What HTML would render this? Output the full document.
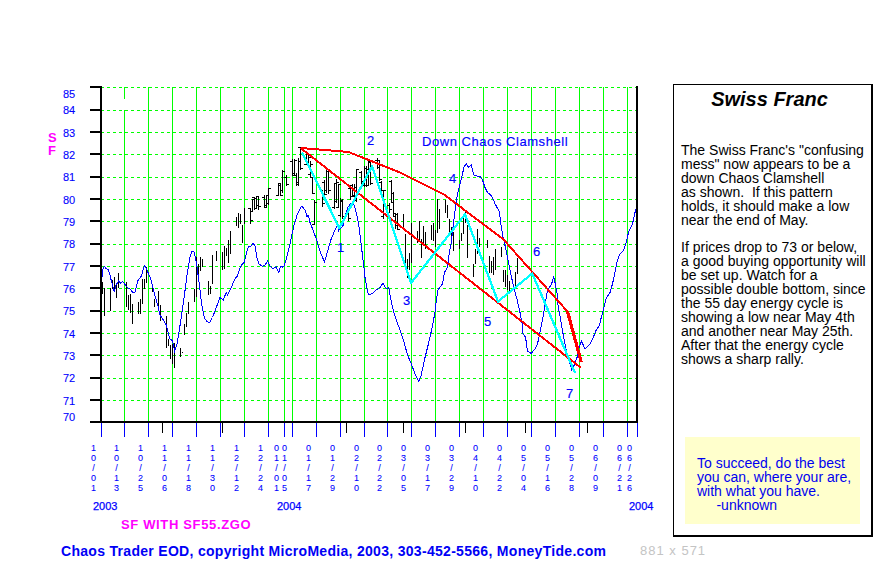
<!DOCTYPE html>
<html><head><meta charset="utf-8"><title>Swiss Franc - Chaos Trader EOD</title>
<style>
html,body{margin:0;padding:0;background:#fff;}
body{width:881px;height:571px;position:relative;overflow:hidden;font-family:"Liberation Sans",sans-serif;}
svg{position:absolute;left:0;top:0;}
.t{position:absolute;white-space:nowrap;line-height:1;}
.yl{position:absolute;left:63px;font-size:11px;color:#0000ff;line-height:11px;width:14px;text-align:left;-webkit-text-stroke:0.1px #0000ff;}
.xl{position:absolute;top:442.6px;width:10px;font-size:9px;line-height:10.1px;color:#0000ff;text-align:center;-webkit-text-stroke:0.08px #0000ff;}
.an{position:absolute;font-size:13px;color:#0000ff;line-height:13px;white-space:nowrap;letter-spacing:0.55px;-webkit-text-stroke:0.15px #0000ff;}
#panel{position:absolute;left:673px;top:84px;width:197px;height:450px;border:1px solid #000;border-right:2px solid #000;border-bottom:2px solid #000;background:#fff;box-sizing:content-box;}
#title{position:absolute;left:-3px;width:197px;top:3px;text-align:center;font-weight:bold;font-style:italic;font-size:20px;line-height:22px;color:#000;}
#body{position:absolute;left:7px;top:57.6px;width:190px;font-size:14.02px;line-height:13.98px;color:#000;white-space:nowrap;}
#quote{position:absolute;left:11px;top:352px;width:175px;height:87px;background:#ffffcc;}
#qt{position:absolute;left:12px;top:18.6px;font-size:14px;line-height:14.1px;color:#0000f0;white-space:nowrap;}
</style></head><body>

<svg width="881" height="571" viewBox="0 0 881 571" shape-rendering="crispEdges">
<line x1="101" x2="636" y1="87.5" y2="87.5" stroke="#00ff00" stroke-width="1" stroke-dasharray="3 3"/>
<line x1="101" x2="636" y1="110.5" y2="110.5" stroke="#00ff00" stroke-width="1" stroke-dasharray="3 3"/>
<line x1="101" x2="636" y1="132.5" y2="132.5" stroke="#00ff00" stroke-width="1" stroke-dasharray="3 3"/>
<line x1="101" x2="636" y1="154.5" y2="154.5" stroke="#00ff00" stroke-width="1" stroke-dasharray="3 3"/>
<line x1="101" x2="636" y1="177.5" y2="177.5" stroke="#00ff00" stroke-width="1" stroke-dasharray="3 3"/>
<line x1="101" x2="636" y1="199.5" y2="199.5" stroke="#00ff00" stroke-width="1" stroke-dasharray="3 3"/>
<line x1="101" x2="636" y1="221.5" y2="221.5" stroke="#00ff00" stroke-width="1" stroke-dasharray="3 3"/>
<line x1="101" x2="636" y1="244.5" y2="244.5" stroke="#00ff00" stroke-width="1" stroke-dasharray="3 3"/>
<line x1="101" x2="636" y1="266.5" y2="266.5" stroke="#00ff00" stroke-width="1" stroke-dasharray="3 3"/>
<line x1="101" x2="636" y1="288.5" y2="288.5" stroke="#00ff00" stroke-width="1" stroke-dasharray="3 3"/>
<line x1="101" x2="636" y1="311.5" y2="311.5" stroke="#00ff00" stroke-width="1" stroke-dasharray="3 3"/>
<line x1="101" x2="636" y1="333.5" y2="333.5" stroke="#00ff00" stroke-width="1" stroke-dasharray="3 3"/>
<line x1="101" x2="636" y1="355.5" y2="355.5" stroke="#00ff00" stroke-width="1" stroke-dasharray="3 3"/>
<line x1="101" x2="636" y1="378.5" y2="378.5" stroke="#00ff00" stroke-width="1" stroke-dasharray="3 3"/>
<line x1="101" x2="636" y1="400.5" y2="400.5" stroke="#00ff00" stroke-width="1" stroke-dasharray="3 3"/>
<line x1="124.5" x2="124.5" y1="87" y2="99" stroke="#00ff00"/>
<line x1="124.5" x2="124.5" y1="110" y2="421" stroke="#00ff00"/>
<line x1="148.5" x2="148.5" y1="87" y2="421" stroke="#00ff00"/>
<line x1="172.5" x2="172.5" y1="87" y2="421" stroke="#00ff00"/>
<line x1="196.5" x2="196.5" y1="87" y2="421" stroke="#00ff00"/>
<line x1="220.5" x2="220.5" y1="87" y2="421" stroke="#00ff00"/>
<line x1="244.5" x2="244.5" y1="87" y2="421" stroke="#00ff00"/>
<line x1="268.5" x2="268.5" y1="87" y2="421" stroke="#00ff00"/>
<line x1="284.5" x2="284.5" y1="87" y2="421" stroke="#00ff00"/>
<line x1="292.5" x2="292.5" y1="87" y2="421" stroke="#00ff00"/>
<line x1="316.5" x2="316.5" y1="87" y2="421" stroke="#00ff00"/>
<line x1="340.5" x2="340.5" y1="87" y2="421" stroke="#00ff00"/>
<line x1="364.5" x2="364.5" y1="87" y2="421" stroke="#00ff00"/>
<line x1="387.5" x2="387.5" y1="87" y2="421" stroke="#00ff00"/>
<line x1="411.5" x2="411.5" y1="87" y2="421" stroke="#00ff00"/>
<line x1="435.5" x2="435.5" y1="87" y2="421" stroke="#00ff00"/>
<line x1="459.5" x2="459.5" y1="87" y2="421" stroke="#00ff00"/>
<line x1="483.5" x2="483.5" y1="87" y2="421" stroke="#00ff00"/>
<line x1="507.5" x2="507.5" y1="87" y2="421" stroke="#00ff00"/>
<line x1="531.5" x2="531.5" y1="87" y2="421" stroke="#00ff00"/>
<line x1="555.5" x2="555.5" y1="87" y2="421" stroke="#00ff00"/>
<line x1="579.5" x2="579.5" y1="87" y2="421" stroke="#00ff00"/>
<line x1="603.5" x2="603.5" y1="87" y2="421" stroke="#00ff00"/>
<line x1="627.5" x2="627.5" y1="87" y2="421" stroke="#00ff00"/>
<path d="M102.5 282V294M104.5 288V316M110.5 288V311M112.5 280V289M114.5 277V291M116.5 283V298M118.5 273V288M126.5 282V307M128.5 295V310M130.5 294V313M132.5 304V324M138.5 302V314M140.5 299V314M142.5 279V304M144.5 279V289M146.5 267V283M152.5 284V292M154.5 299V307M158.5 291V308M160.5 305V321M166.5 316V348M168.5 339V346M170.5 345V359M172.5 344V364M174.5 343V368M180.5 348V357M182.5 352V353M184.5 324V335M186.5 313V327M188.5 302V314M194.5 289V302M196.5 257V297M198.5 264V277M200.5 257V271M202.5 259V267M208.5 281V295M210.5 286V294M212.5 255V284M216.5 251V261M222.5 252V270M224.5 246V269M226.5 248V256M228.5 240V263M230.5 231V254M236.5 217V226M238.5 213V228M240.5 214V224M242.5 225V243M244.5 208V224M250.5 208V224M248 208.5H250.5M250.5 220.5H253M252.5 199V212M250 211.5H252.5M252.5 199.5H255M254.5 197V210M252 197.5H254.5M254.5 208.5H257M256.5 197V209M254 198.5H256.5M256.5 205.5H259M258.5 196V210M256 196.5H258.5M258.5 206.5H261M264.5 195V208M262 197.5H264.5M264.5 207.5H267M266.5 195V208M264 205.5H266.5M266.5 195.5H269M268.5 188V205M266 203.5H268.5M268.5 188.5H271M278.5 184V196M276 195.5H278.5M278.5 185.5H281M280.5 183V196M278 183.5H280.5M280.5 195.5H283M282.5 170V193M280 190.5H282.5M282.5 171.5H285M286.5 175V186M284 177.5H286.5M286.5 184.5H289M292.5 159V176M290 161.5H292.5M292.5 175.5H295M294.5 159V176M292 173.5H294.5M294.5 160.5H297M296.5 173V186M294 175.5H296.5M296.5 182.5H299M298.5 158V186M296 184.5H298.5M298.5 161.5H301M300.5 147V170M298 147.5H300.5M300.5 168.5H303M306.5 153V165M304 164.5H306.5M306.5 153.5H309M308.5 154V165M306 162.5H308.5M308.5 157.5H311M310.5 161V177M308 174.5H310.5M310.5 164.5H313M312.5 177V194M310 177.5H312.5M312.5 193.5H315M314.5 200V225M312 224.5H314.5M314.5 202.5H317M322.5 190V207M320 191.5H322.5M322.5 203.5H325M324.5 180V195M322 182.5H324.5M324.5 194.5H327M326.5 169V193M324 190.5H326.5M326.5 171.5H329M328.5 170V194M326 171.5H328.5M328.5 190.5H331M334.5 183V209M332 207.5H334.5M334.5 183.5H337M336.5 179V203M334 201.5H336.5M336.5 182.5H339M338.5 184V208M336 207.5H338.5M338.5 184.5H341M340.5 198V217M338 215.5H340.5M340.5 201.5H343M342.5 199V219M340 200.5H342.5M342.5 216.5H345M348.5 212V221M346 213.5H348.5M348.5 218.5H351M350.5 188V200M348 188.5H350.5M350.5 196.5H353M352.5 184V197M350 185.5H352.5M352.5 195.5H355M354.5 184V198M352 196.5H354.5M354.5 187.5H357M356.5 169V202M354 200.5H356.5M356.5 169.5H359M361.5 171V184M359 172.5H361.5M361.5 181.5H364M364.5 166V187M362 185.5H364.5M364.5 168.5H367M366.5 166V187M364 185.5H366.5M366.5 169.5H369M368.5 161V186M366 185.5H368.5M368.5 161.5H371M370.5 162V185M368 162.5H370.5M370.5 183.5H373M377.5 158V169M375 160.5H377.5M377.5 167.5H380M379.5 160V181M377 160.5H379.5M379.5 179.5H382M381.5 181V193M379 182.5H381.5M381.5 190.5H384M383.5 190V219M381 216.5H383.5M383.5 190.5H386M389.5 203V213M387 205.5H389.5M389.5 209.5H392M391.5 180V203M389 181.5H391.5M391.5 202.5H394M393.5 192V217M391 193.5H393.5M393.5 216.5H396M395.5 213V229M393 213.5H395.5M395.5 225.5H398M397.5 213V230M395 214.5H397.5M397.5 229.5H400M403.5 214V227M405.5 234V263M407.5 259V278M409.5 253V270M411.5 223V263M417.5 231V243M419.5 221V240M421.5 239V258M423.5 226V243M425.5 232V249M431.5 225V240M433.5 223V241M435.5 230V247M437.5 199V233M439.5 209V229M445.5 200V213M447.5 205V218M449.5 219V235M451.5 227V239M453.5 232V251M459.5 240V249M461.5 233V241M463.5 218V234M465.5 210V223M467.5 225V258M473.5 264V277M475.5 249V264M477.5 229V254M479.5 238V247M487.5 240V248M489.5 256V273M491.5 261V273M493.5 257V275M495.5 249V270M501.5 247V257M503.5 270V282M505.5 270V287M507.5 275V290M509.5 281V291M515.5 272V286M517.5 258V274" stroke="#000" stroke-width="1" fill="none"/>
<polyline points="101.5,281.25 103,268.75 104.5,266.5 106.1,268.5 108.25,269.4 109.9,275 111.75,282.5 114.25,291.5 116.1,285 118.6,281 120.5,283.1 122.6,281.25 124.9,284.4 128,288.1 130.75,289.4 133,293.1 134.9,292.5 138,280.6 141.75,275.6 143.6,267.5 144.9,265.6 147.4,271.25 150.5,278.1 153,288.1 155.5,297.5 158,306.25 159.9,315 164.25,321.25 166.25,325 168.75,335 170,338.75 172.5,341 174.75,351.25 177,343.75 179.9,326.25 184.25,296.25 187.4,272.5 189.9,257.5 191.5,252 193.75,251.25 194.9,255 196.75,265 199.25,283.75 201.75,305 204.25,317.5 206.75,321.25 209.4,322.75 212.5,317.5 216.25,307.5 220,297.5 223.25,300 226.25,292.5 227.5,295 231.25,287.5 235,278.75 237.5,276 240.6,266.25 244.4,262 246.9,251.25 248.75,246.25 250.6,247 253.1,243 255,246.25 256.9,257.5 258.75,263.75 262.5,266.5 265,265 267.5,261.25 270,266.25 272.5,268.5 276.25,267 278.75,272.5 280.6,266.25 282.5,267 284.4,265.6 286.25,258.75 290,243.75 293.75,226.25 297.5,213.75 301.25,206.25 302.5,207 305,210 306.9,216.25 308.5,215.6 310,222.5 313,230 316.25,238.75 320,251.25 324.4,261.9 326.9,253.75 330.6,240.6 335,230 337.5,225 338.75,230.6 343,225.6 345.6,215 348,206.9 351.25,203 353.75,204.4 355.6,210 357.5,217.5 359.4,230 361.25,245 363,260 364.4,271 365,277.5 367.5,291.25 368.75,294.5 372.5,293.75 376.25,290 380,287.5 383,283.25 386.25,288.75 388.75,287.5 390,295 392.5,307.5 396.25,320 400,330 403.75,341.25 407.5,355 411.25,363.75 415,373.75 418.75,381.25 421.25,375 425,357.5 428.75,342.5 432.5,326 435,312 436.25,301 438,290 442.5,283.75 444.4,272.5 447.5,267.5 449.4,252.5 451.25,242.5 453,227.5 455,211 457.5,193.75 460,183.75 462.5,173.75 464,167 466.25,163.75 468.75,167.5 471.25,165 473.75,175 477.5,176.25 480,176.25 482.5,180 485,187.5 487.5,192.5 491.25,195.5 492.5,197.5 495,203.75 499.4,211.9 500.6,222.5 503,237.5 504.4,242.5 507.5,257.5 509.4,267.5 513.75,287.5 516.9,298.75 520,312.5 522.5,325 523,333.75 525.6,337.5 527.5,351.25 531.25,353.5 535,348.75 537.5,343.75 540,332.5 542.5,320 544.4,309 547.5,290 551.25,285 553.75,276.9 555,282.5 557.5,295 558,305 560,316.25 561.9,327.5 563.75,337.5 565.6,347.5 568,356.25 570,363.75 571.9,370.6 573.75,366.25 577.5,356.25 579.4,346.25 581.5,341.25 585,348.75 590,343.75 593.75,336.25 596.25,330 599.4,325.6 601.25,317.5 603,311.25 606.25,298 610,292.5 612.5,283.75 615,272.5 617.5,260 620,253.75 623.75,250 626.25,242.5 628.75,231.25 632.5,223.75 635,212.5 636.25,208.75" stroke="#0000ff" stroke-width="1" fill="none"/>
<polyline points="300.6,148 580.6,367.5" stroke="#ff0000" stroke-width="2" fill="none"/>
<polyline points="300.6,148 348.5,152 400,172.5 444,194.5 503.5,239.5 567.5,311.5 581.25,362" stroke="#ff0000" stroke-width="2" fill="none" stroke-linejoin="round"/>
<line x1="567.5" y1="311.5" x2="581.25" y2="362" stroke="#ff0000" stroke-width="3.2" stroke-linecap="butt"/>
<polyline points="302,152.5 339.4,228 372,166.25 411,283 465,214.4 498,301.5 532.25,273.5 575,373" stroke="#00ffff" stroke-width="2.3" fill="none" stroke-linejoin="round"/>
<rect x="100" y="86" width="2" height="337" fill="#000"/>
<rect x="636" y="86" width="2" height="337" fill="#000"/>
<rect x="90" y="421" width="548" height="2" fill="#000"/>
<rect x="90" y="86" width="11" height="2" fill="#000"/>
<rect x="90" y="109" width="11" height="2" fill="#000"/>
<rect x="90" y="131" width="11" height="2" fill="#000"/>
<rect x="90" y="153" width="11" height="2" fill="#000"/>
<rect x="90" y="176" width="11" height="2" fill="#000"/>
<rect x="90" y="198" width="11" height="2" fill="#000"/>
<rect x="90" y="220" width="11" height="2" fill="#000"/>
<rect x="90" y="243" width="11" height="2" fill="#000"/>
<rect x="90" y="265" width="11" height="2" fill="#000"/>
<rect x="90" y="287" width="11" height="2" fill="#000"/>
<rect x="90" y="310" width="11" height="2" fill="#000"/>
<rect x="90" y="332" width="11" height="2" fill="#000"/>
<rect x="90" y="354" width="11" height="2" fill="#000"/>
<rect x="90" y="377" width="11" height="2" fill="#000"/>
<rect x="90" y="399" width="11" height="2" fill="#000"/>
<line x1="101.5" x2="101.5" y1="423" y2="437" stroke="#0000ff"/>
<line x1="124.5" x2="124.5" y1="423" y2="437" stroke="#0000ff"/>
<line x1="148.5" x2="148.5" y1="423" y2="437" stroke="#0000ff"/>
<line x1="172.5" x2="172.5" y1="423" y2="437" stroke="#0000ff"/>
<line x1="196.5" x2="196.5" y1="423" y2="437" stroke="#0000ff"/>
<line x1="220.5" x2="220.5" y1="423" y2="437" stroke="#0000ff"/>
<line x1="244.5" x2="244.5" y1="423" y2="437" stroke="#0000ff"/>
<line x1="268.5" x2="268.5" y1="423" y2="437" stroke="#0000ff"/>
<line x1="284.5" x2="284.5" y1="423" y2="437" stroke="#0000ff"/>
<line x1="292.5" x2="292.5" y1="423" y2="437" stroke="#0000ff"/>
<line x1="316.5" x2="316.5" y1="423" y2="437" stroke="#0000ff"/>
<line x1="340.5" x2="340.5" y1="423" y2="437" stroke="#0000ff"/>
<line x1="364.5" x2="364.5" y1="423" y2="437" stroke="#0000ff"/>
<line x1="387.5" x2="387.5" y1="423" y2="437" stroke="#0000ff"/>
<line x1="411.5" x2="411.5" y1="423" y2="437" stroke="#0000ff"/>
<line x1="435.5" x2="435.5" y1="423" y2="437" stroke="#0000ff"/>
<line x1="459.5" x2="459.5" y1="423" y2="437" stroke="#0000ff"/>
<line x1="483.5" x2="483.5" y1="423" y2="437" stroke="#0000ff"/>
<line x1="507.5" x2="507.5" y1="423" y2="437" stroke="#0000ff"/>
<line x1="531.5" x2="531.5" y1="423" y2="437" stroke="#0000ff"/>
<line x1="555.5" x2="555.5" y1="423" y2="437" stroke="#0000ff"/>
<line x1="579.5" x2="579.5" y1="423" y2="437" stroke="#0000ff"/>
<line x1="603.5" x2="603.5" y1="423" y2="437" stroke="#0000ff"/>
<line x1="627.5" x2="627.5" y1="423" y2="437" stroke="#0000ff"/>
<line x1="637.5" x2="637.5" y1="423" y2="437" stroke="#0000ff"/>
<line x1="162.5" x2="162.5" y1="423" y2="433" stroke="#000"/>
<line x1="222.5" x2="222.5" y1="423" y2="433" stroke="#000"/>
<line x1="346.5" x2="346.5" y1="423" y2="433" stroke="#000"/>
<line x1="403.5" x2="403.5" y1="423" y2="433" stroke="#000"/>
<line x1="465.5" x2="465.5" y1="423" y2="433" stroke="#000"/>
<line x1="525.5" x2="525.5" y1="423" y2="433" stroke="#000"/>
<line x1="587.5" x2="587.5" y1="423" y2="433" stroke="#000"/>
</svg>
<div class="yl" style="top:89px">85</div>
<div class="yl" style="top:105px">84</div>
<div class="yl" style="top:128px">83</div>
<div class="yl" style="top:150px">82</div>
<div class="yl" style="top:172px">81</div>
<div class="yl" style="top:195px">80</div>
<div class="yl" style="top:217px">79</div>
<div class="yl" style="top:239px">78</div>
<div class="yl" style="top:262px">77</div>
<div class="yl" style="top:284px">76</div>
<div class="yl" style="top:306px">75</div>
<div class="yl" style="top:329px">74</div>
<div class="yl" style="top:351px">73</div>
<div class="yl" style="top:373px">72</div>
<div class="yl" style="top:396px">71</div>
<div class="yl" style="top:412px">70</div>
<div class="xl" style="left:88.6px">1<br>0<br>/<br>0<br>1</div>
<div class="xl" style="left:111.6px">1<br>0<br>/<br>1<br>3</div>
<div class="xl" style="left:135.6px">1<br>0<br>/<br>2<br>5</div>
<div class="xl" style="left:159.6px">1<br>1<br>/<br>0<br>6</div>
<div class="xl" style="left:183.6px">1<br>1<br>/<br>1<br>8</div>
<div class="xl" style="left:207.6px">1<br>1<br>/<br>3<br>0</div>
<div class="xl" style="left:231.6px">1<br>2<br>/<br>1<br>2</div>
<div class="xl" style="left:255.6px">1<br>2<br>/<br>2<br>4</div>
<div class="xl" style="left:271.6px">0<br>1<br>/<br>0<br>1</div>
<div class="xl" style="left:279.6px">0<br>1<br>/<br>0<br>5</div>
<div class="xl" style="left:303.6px">0<br>1<br>/<br>1<br>7</div>
<div class="xl" style="left:327.6px">0<br>1<br>/<br>2<br>9</div>
<div class="xl" style="left:351.6px">0<br>2<br>/<br>1<br>0</div>
<div class="xl" style="left:374.6px">0<br>2<br>/<br>2<br>2</div>
<div class="xl" style="left:398.6px">0<br>3<br>/<br>0<br>5</div>
<div class="xl" style="left:422.6px">0<br>3<br>/<br>1<br>7</div>
<div class="xl" style="left:446.6px">0<br>3<br>/<br>2<br>9</div>
<div class="xl" style="left:470.6px">0<br>4<br>/<br>1<br>0</div>
<div class="xl" style="left:494.6px">0<br>4<br>/<br>2<br>2</div>
<div class="xl" style="left:518.6px">0<br>5<br>/<br>0<br>4</div>
<div class="xl" style="left:542.6px">0<br>5<br>/<br>1<br>6</div>
<div class="xl" style="left:566.6px">0<br>5<br>/<br>2<br>8</div>
<div class="xl" style="left:590.6px">0<br>6<br>/<br>0<br>9</div>
<div class="xl" style="left:614.6px">0<br>6<br>/<br>2<br>1</div>
<div class="xl" style="left:624.6px">0<br>6<br>/<br>2<br>6</div>
<div class="t" style="left:93px;top:501px;font-size:11px;color:#0000ff;-webkit-text-stroke:0.25px #0000ff">2003</div>
<div class="t" style="left:277px;top:501px;font-size:11px;color:#0000ff;-webkit-text-stroke:0.25px #0000ff">2004</div>
<div class="t" style="left:629px;top:501px;font-size:11px;color:#0000ff;-webkit-text-stroke:0.25px #0000ff">2004</div>
<div class="t" style="left:48px;top:131px;font-size:13px;line-height:13px;font-weight:bold;color:#ff00ff;white-space:normal;width:10px">S<br>F</div>
<div class="t" style="left:121px;top:517.6px;font-size:13px;letter-spacing:0.65px;font-weight:bold;color:#ff00ff">SF WITH SF55.ZGO</div>
<div class="t" style="left:61px;top:544px;font-size:14px;letter-spacing:0.3px;font-weight:bold;color:#0000f5">Chaos Trader EOD, copyright MicroMedia, 2003, 303-452-5566, MoneyTide.com</div>
<div class="t" style="left:640px;top:544px;font-size:13px;letter-spacing:1px;color:#c4c4c4">881 x 571</div>
<div class="an" style="left:337px;top:241px">1</div>
<div class="an" style="left:367px;top:134px">2</div>
<div class="an" style="left:403px;top:294px">3</div>
<div class="an" style="left:449px;top:172px">4</div>
<div class="an" style="left:484px;top:315px">5</div>
<div class="an" style="left:533px;top:245px">6</div>
<div class="an" style="left:566px;top:387px">7</div>
<div class="an" style="left:422px;top:135px">Down Chaos Clamshell</div>
<div id="panel"><div id="title">Swiss Franc</div>
<div id="body">The Swiss Franc's "confusing<br>mess" now appears to be a<br>down Chaos Clamshell<br>as shown.&nbsp; If this pattern<br>holds, it should make a low<br>near the end of May.<br><br>If prices drop to 73 or below,<br>a good buying opportunity will<br>be set up. Watch for a<br>possible double bottom, since<br>the 55 day energy cycle is<br>showing a low near May 4th<br>and another near May 25th.<br>After that the energy cycle<br>shows a sharp rally.</div>
<div id="quote"><div id="qt">To succeed, do the best<br>you can, where your are,<br>with what you have.<br>&nbsp;&nbsp;&nbsp;&nbsp;&nbsp;-unknown</div></div>
</div>
</body></html>
